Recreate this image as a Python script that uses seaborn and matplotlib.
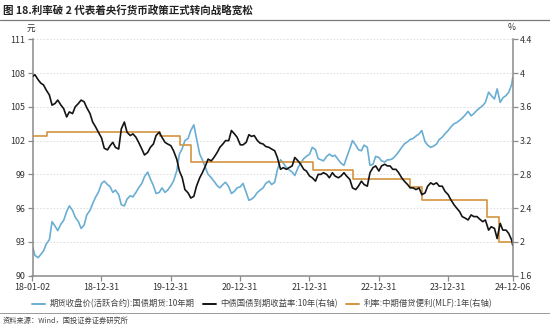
import matplotlib
matplotlib.use("Agg")
import matplotlib.pyplot as plt
import matplotlib.dates as mdates
from matplotlib.lines import Line2D
import seaborn as sns
import pandas as pd

# ---------------- data ----------------
# semi-monthly observations (1st and 15th of each month)
yield_2018 = [3.96, 3.98, 3.92, 3.88, 3.86, 3.80, 3.74, 3.62, 3.64, 3.68, 3.62, 3.58,
              3.48, 3.54, 3.52, 3.60, 3.64, 3.68, 3.66, 3.59, 3.52, 3.42, 3.36, 3.30]
yield_2019 = [3.23, 3.11, 3.09, 3.14, 3.18, 3.12, 3.10, 3.34, 3.42, 3.30, 3.26, 3.28,
              3.24, 3.18, 3.10, 3.03, 3.06, 3.12, 3.16, 3.26, 3.30, 3.24, 3.18, 3.16]
yield_2020 = [3.14, 3.08, 2.98, 2.84, 2.76, 2.62, 2.58, 2.52, 2.54, 2.66, 2.76, 2.82,
              2.90, 2.98, 2.96, 3.00, 3.06, 3.12, 3.16, 3.20, 3.20, 3.32, 3.28, 3.24]
yield_2021 = [3.15, 3.15, 3.18, 3.27, 3.25, 3.26, 3.20, 3.17, 3.16, 3.13, 3.12, 3.10,
              3.08, 3.00, 2.86, 2.88, 2.86, 2.88, 2.90, 3.00, 2.96, 2.92, 2.86, 2.84]
yield_2022 = [2.78, 2.76, 2.72, 2.80, 2.80, 2.82, 2.80, 2.76, 2.82, 2.78, 2.76, 2.78,
              2.82, 2.78, 2.74, 2.64, 2.62, 2.66, 2.72, 2.68, 2.66, 2.82, 2.88, 2.90]
yield_2023 = [2.84, 2.90, 2.92, 2.90, 2.90, 2.86, 2.86, 2.82, 2.76, 2.72, 2.68, 2.64,
              2.64, 2.62, 2.64, 2.56, 2.58, 2.66, 2.70, 2.68, 2.70, 2.66, 2.66, 2.60]
yield_2024 = [2.56, 2.50, 2.44, 2.40, 2.36, 2.30, 2.28, 2.26, 2.32, 2.30, 2.30, 2.27,
              2.24, 2.26, 2.14, 2.18, 2.16, 2.04, 2.22, 2.14, 2.14, 2.10, 2.02, 1.96]

fut_2018 = [92.6, 91.8, 91.6, 91.9, 92.2, 92.8, 93.2, 94.8, 94.4, 94.0, 94.6, 94.9,
            95.7, 96.2, 95.8, 95.2, 94.8, 94.2, 94.5, 95.4, 95.8, 96.4, 97.0, 97.4]
fut_2019 = [98.2, 98.4, 98.1, 97.9, 97.4, 97.6, 97.2, 96.3, 96.2, 96.8, 97.1, 97.0,
            97.4, 97.8, 98.2, 98.8, 99.2, 98.6, 98.0, 97.3, 97.4, 97.8, 97.4, 97.6]
fut_2020 = [98.0, 98.4, 99.3, 100.8, 101.3, 102.0, 102.2, 102.9, 103.4, 102.2, 100.8, 100.3,
            99.6, 99.0, 98.7, 98.4, 98.0, 97.8, 98.1, 98.3, 97.9, 97.3, 97.5, 97.8]
fut_2021 = [97.9, 98.2, 97.4, 96.7, 96.8, 97.0, 97.4, 97.6, 97.8, 98.2, 98.4, 98.1,
            98.3, 99.4, 100.3, 100.0, 99.6, 99.4, 99.2, 98.9, 99.6, 100.0, 100.4, 100.6]
fut_2022 = [100.8, 101.4, 101.2, 100.4, 100.3, 100.2, 100.6, 100.8, 100.6, 100.7, 100.3, 100.0,
            99.8, 100.5, 101.3, 102.0, 101.6, 101.2, 101.1, 101.6, 101.4, 99.8, 99.9, 100.6]
fut_2023 = [100.5, 100.2, 100.1, 100.3, 100.3, 100.4, 100.7, 101.0, 101.4, 101.7, 101.9, 102.1,
            102.2, 102.4, 102.6, 102.9, 101.9, 101.6, 101.4, 101.5, 101.7, 102.1, 102.3, 102.6]
fut_2024 = [102.9, 103.2, 103.5, 103.6, 103.8, 104.0, 104.3, 104.6, 104.2, 104.4, 104.7, 104.9,
            105.1, 105.4, 106.3, 106.0, 105.7, 106.6, 105.4, 105.8, 106.0, 106.3, 107.0, 107.6]

years = [2018, 2019, 2020, 2021, 2022, 2023, 2024]
start_date = "2018-01-02"
end_date = "2024-12-06"

mlf_dates = ["2018-01-02", "2018-03-22", "2019-11-05", "2020-02-17", "2020-04-15",
             "2022-01-17", "2022-08-15", "2023-06-15", "2023-08-15", "2024-07-25",
             "2024-09-25", "2024-12-06"]
mlf_rate = [3.25, 3.30, 3.25, 3.15, 2.95, 2.85, 2.75, 2.65, 2.50, 2.30, 2.00, 2.00]

x_tick_dates = ["2018-01-02", "2018-12-31", "2019-12-31", "2020-12-31",
                "2021-12-31", "2022-12-31", "2023-12-31", "2024-12-06"]
left_ticks = [90, 93, 96, 99, 102, 105, 108, 111]
right_ticks = [1.6, 2.0, 2.4, 2.8, 3.2, 3.6, 4.0, 4.4]

title = "图 18.利率破 2 代表着央行货币政策正式转向战略宽松"
label_fut = "期货收盘价(活跃合约):国债期货:10年期"
label_yield = "中债国债到期收益率:10年(右轴)"
label_mlf = "利率:中期借贷便利(MLF):1年(右轴)"
source = "资料来源：Wind，国投证券证券研究所"

# ---------------- build tables ----------------
dates = []
for y in years:
    for m in range(1, 13):
        for d in (1, 15):
            dates.append(pd.Timestamp(year=y, month=m, day=d))
dates[0] = pd.Timestamp(start_date)
dates[-1] = pd.Timestamp(end_date)

yields = yield_2018 + yield_2019 + yield_2020 + yield_2021 + yield_2022 + yield_2023 + yield_2024
futs = fut_2018 + fut_2019 + fut_2020 + fut_2021 + fut_2022 + fut_2023 + fut_2024
df = pd.DataFrame({"date": dates, "yield": yields, "fut": futs})
df_mlf = pd.DataFrame({"date": pd.to_datetime(mlf_dates), "rate": mlf_rate})

# ---------------- style ----------------
sns.set_theme(style="white")
plt.rcParams["font.family"] = ["Noto Sans CJK SC", "DejaVu Sans"]
plt.rcParams["axes.unicode_minus"] = False

C_BLUE = "#6aaed3"
C_BLACK = "#141414"
C_ORANGE = "#d39440"
C_AXIS = "#8a8a8a"
C_TEXT = "#333333"

W, H = 550, 325
fig = plt.figure(figsize=(W / 100, H / 100), dpi=100)
fig.patch.set_facecolor("white")

L, R, T, B = 32.5, 512.7, 39.3, 275.7
ax = fig.add_axes([L / W, 1 - B / H, (R - L) / W, (B - T) / H])
ax2 = ax.twinx()

sns.lineplot(data=df, x="date", y="fut", ax=ax, color=C_BLUE, linewidth=1.2)
sns.lineplot(data=df_mlf, x="date", y="rate", ax=ax2, color=C_ORANGE, linewidth=1.2,
             drawstyle="steps-post")
sns.lineplot(data=df, x="date", y="yield", ax=ax2, color=C_BLACK, linewidth=1.2)

ax.set_xlim(pd.Timestamp(start_date), pd.Timestamp(end_date))
ax.set_ylim(90, 111)
ax2.set_ylim(1.6, 4.4)
ax.set_yticks(left_ticks)
ax.set_yticklabels([str(v) for v in left_ticks])
ax2.set_yticks(right_ticks)
ax2.set_yticklabels([f"{v:g}" for v in right_ticks])
ax.set_xticks(pd.to_datetime(x_tick_dates))
ax.xaxis.set_major_formatter(mdates.DateFormatter("%y-%m-%d"))

for a in (ax, ax2):
    a.set_xlabel("")
    a.set_ylabel("")
    a.spines["top"].set_visible(False)
    for s in ("left", "right", "bottom"):
        a.spines[s].set_color(C_AXIS)
        a.spines[s].set_linewidth(1.1)
    a.tick_params(axis="both", which="major", labelsize=6.4, colors=C_AXIS,
                  labelcolor=C_TEXT, length=3.5, width=0.9, pad=1.5)
ax.spines["right"].set_visible(False)
ax2.spines["left"].set_visible(False)
ax2.spines["bottom"].set_visible(False)
ax.tick_params(axis="y", left=True, right=False)
ax.tick_params(axis="x", bottom=True, pad=2)
ax2.tick_params(axis="y", right=True, left=False)

ax.grid(False)
ax2.grid(False)
ax.yaxis.grid(True, color="#d9d9d9", linestyle=(0, (2, 2)), linewidth=0.6)
ax.set_axisbelow(True)
ax.set_facecolor("none")

# unit labels
fig.text(31 / W, 1 - 28 / H, "元", fontsize=6.2, color=C_TEXT, ha="center", va="center")
fig.text(512 / W, 1 - 27 / H, "%", fontsize=6.2, color=C_TEXT, ha="center", va="center")

# title and separator lines
fig.text(3 / W, 1 - 10 / H, title, fontsize=7.6, fontweight="bold", color="#222222",
         ha="left", va="center")
fig.add_artist(Line2D([0, 1], [1 - 20 / H, 1 - 20 / H], color="#7a7a7a", linewidth=0.9,
                      transform=fig.transFigure))
fig.add_artist(Line2D([0, 1], [1 - 312.5 / H, 1 - 312.5 / H], color="#9a9a9a", linewidth=0.7,
                      transform=fig.transFigure))
fig.text(3 / W, 1 - 320.5 / H, source, fontsize=5.2, color="#444444", ha="left", va="center",
         style="italic")

# legend
handles = [Line2D([], [], color=C_BLUE, linewidth=1.4),
           Line2D([], [], color=C_BLACK, linewidth=1.4),
           Line2D([], [], color=C_ORANGE, linewidth=1.4)]
fig.legend(handles, [label_fut, label_yield, label_mlf], loc="center",
           bbox_to_anchor=(262 / W, 1 - 304 / H), ncol=3, frameon=False,
           fontsize=6.0, handlelength=1.6, handletextpad=0.5, columnspacing=1.0,
           labelcolor="#444444")

fig.savefig("out.png", dpi=100, facecolor="white")
